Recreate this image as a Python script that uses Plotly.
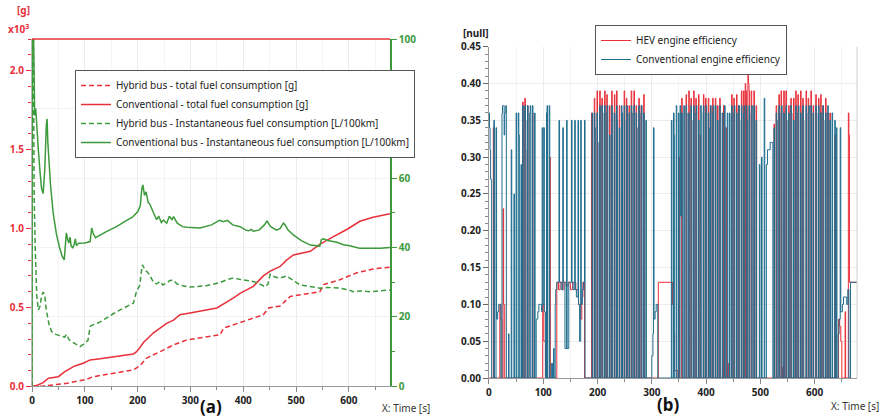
import plotly.graph_objects as go

# ---------------- (a) fuel consumption ----------------
# cumulative fuel mass [x10^3 g]
t_conv_total = [0, 10, 21, 31, 50, 62, 81, 97, 110, 129, 192, 198, 204, 211, 230, 242, 255,
                268, 280, 299, 350, 381, 394, 419, 438, 451, 470, 482, 495, 527, 545, 570,
                596, 621, 646, 678]
conv_total = [0, 0.008, 0.024, 0.052, 0.062, 0.094, 0.13, 0.147, 0.168, 0.175, 0.206, 0.22,
              0.245, 0.278, 0.34, 0.37, 0.40, 0.42, 0.454, 0.465, 0.497, 0.56, 0.59, 0.634,
              0.70, 0.73, 0.76, 0.80, 0.833, 0.856, 0.90, 0.947, 0.994, 1.046, 1.072, 1.093]

t_hyb_total = [0, 21, 66, 104, 116, 154, 192, 204, 217, 242, 268, 293, 356, 363, 394, 438,
               448, 470, 489, 545, 552, 583, 615, 646, 678]
hyb_total = [0, 0.003, 0.02, 0.046, 0.062, 0.084, 0.105, 0.13, 0.18, 0.22, 0.263, 0.295,
             0.327, 0.37, 0.405, 0.454, 0.497, 0.51, 0.57, 0.60, 0.645, 0.676, 0.72, 0.744,
             0.755]

# instantaneous consumption [L/100km]
t_conv_inst = [0, 0.5, 3, 5, 7, 9, 12, 15, 18, 21, 24, 27, 28.5, 30, 32, 35, 40, 46, 52, 57,
               61, 63, 65, 68, 70, 72, 74, 77, 80, 82, 84, 88, 100, 110, 113, 116, 120, 140,
               160, 176, 190, 200, 205, 208, 210, 213, 216, 220, 223, 230, 236, 240, 245,
               249, 255, 260, 265, 268, 275, 285, 293, 318, 340, 355, 362, 370, 380, 394,
               405, 410, 415, 419, 430, 440, 445, 452, 463, 470, 476, 479, 485, 495, 510,
               527, 545, 548, 552, 560, 577, 590, 602, 620, 640, 660, 678]
conv_inst = [0, 110, 100, 78, 80, 74, 68, 62, 57, 55.5, 62, 75, 77, 70, 64, 58, 50, 44, 40,
             37.5, 36.4, 40, 44.2, 42, 41.3, 43, 40.5, 39.8, 41, 42.5, 40.5, 41.2, 41.3, 41.7,
             45.6, 44, 42.8, 44.5, 46, 47.5, 48.7, 50.3, 52, 57, 58, 55, 56, 53, 52.5, 50, 48,
             49, 47.2, 47.9, 47, 49, 48, 48.9, 47, 46, 45.8, 45.6, 46.5, 47.8, 47.4, 47.8,
             46.5, 46, 45, 44.8, 45.2, 44.7, 45, 46.5, 47.6, 46, 45, 45.5, 47, 46.6, 45, 43.6,
             42, 40.7, 40.4, 42.3, 42.5, 42, 41.5, 40.8, 40.5, 39.8, 39.7, 39.8, 40]

t_hyb_inst = [0, 0.5, 2.5, 4, 6, 9, 12, 15, 18, 21, 24, 27, 32, 37, 45, 55, 62, 65, 70, 75,
              85, 91, 98, 103, 106, 110, 112, 120, 129, 160, 192, 197, 204, 207, 209, 211,
              214, 218, 223, 230, 236, 242, 248, 255, 261, 267, 275, 285, 299, 330, 356, 370,
              381, 395, 410, 419, 430, 441, 447, 451, 460, 470, 482, 495, 508, 525, 545, 560,
              583, 600, 608, 620, 640, 660, 678]
hyb_inst = [0, 110, 100, 55, 40, 26, 22, 23, 26, 27.2, 26.3, 22, 18, 15.8, 15, 14.5, 14.2,
            15, 13.5, 12.9, 12, 11.5, 12.2, 12.9, 13.3, 17.2, 17.5, 18, 18.6, 21.5, 24, 26.9,
            29.2, 33, 35, 34.5, 33.5, 33, 32, 30, 29.5, 30.2, 29.2, 29.8, 30.5, 30.6, 29.5,
            29, 28.6, 29, 29.9, 30.8, 31.2, 30.8, 30.4, 30.2, 29.6, 28.7, 29.5, 32.3, 31.5,
            31.2, 31.8, 30.5, 29.2, 28.8, 28.3, 28.5, 28.3, 27.8, 27.3, 27.5, 27.3, 27.5, 27.8]

# ---------------- (b) engine efficiency (step signal: value holds until next time) ----------------
hev_eff = [
    (0, 0), (8, 0.34), (9, 0), (20, 0.1), (22, 0.08), (24, 0), (26, 0.23), (27, 0.1), (29, 0),
    (62, 0.375), (63, 0), (66, 0.38), (67, 0.31), (68, 0), (71, 0.37), (72, 0), (80, 0.36),
    (81, 0), (99, 0.1), (101, 0.05), (104, 0), (106, 0.36), (107, 0), (112, 0.3), (113, 0),
    (125, 0.13), (128, 0.12), (131, 0.13), (135, 0.12), (138, 0.13), (142, 0.125), (146, 0.13),
    (150, 0.12), (154, 0.13), (160, 0.12), (165, 0.1), (168, 0.08), (171, 0.11), (173, 0.13),
    (176, 0), (189, 0.36), (190, 0), (194, 0.38), (195, 0), (199, 0.39), (200, 0), (204, 0.39),
    (205, 0), (208, 0.38), (209, 0), (213, 0.39), (214, 0), (217, 0.385), (218, 0), (222, 0.37),
    (223, 0), (226, 0.39), (227, 0), (231, 0.385), (232, 0), (235, 0.39), (236, 0), (240, 0.37),
    (241, 0), (245, 0.25), (246, 0), (249, 0.39), (250, 0), (253, 0.38), (254, 0), (258, 0.37),
    (259, 0), (262, 0.39), (263, 0), (267, 0.39), (268, 0), (271, 0.37), (272, 0), (276, 0.38),
    (277, 0), (280, 0.37), (281, 0), (285, 0.385), (286, 0), (312, 0.13), (337, 0.13),
    (338, 0.1), (340, 0.06), (342, 0.01), (348, 0), (350, 0.3), (351, 0), (355, 0.38), (356, 0),
    (363, 0.385), (364, 0), (368, 0.39), (369, 0), (372, 0.38), (373, 0), (377, 0.39), (378, 0),
    (381, 0.38), (382, 0), (386, 0.385), (387, 0), (389, 0.33), (390, 0), (395, 0.385),
    (396, 0), (399, 0.38), (400, 0), (404, 0.38), (405, 0), (408, 0.37), (409, 0), (412, 0.38),
    (413, 0), (417, 0.38), (418, 0), (421, 0.37), (422, 0), (425, 0.38), (426, 0), (432, 0.37),
    (433, 0.21), (434, 0), (437, 0.34), (438, 0), (440, 0.02), (441, 0), (447, 0.385), (448, 0),
    (451, 0.38), (452, 0), (456, 0.385), (457, 0), (460, 0.37), (461, 0), (465, 0.39), (466, 0),
    (469, 0.39), (470, 0), (472, 0.40), (473, 0), (474, 0.39), (475, 0), (477, 0.415),
    (478, 0.40), (479, 0.39), (480, 0), (483, 0.39), (484, 0), (488, 0.39), (489, 0),
    (492, 0.37), (493, 0), (525, 0.345), (526, 0), (529, 0.37), (530, 0), (534, 0.385),
    (535, 0), (538, 0.39), (539, 0), (541, 0.015), (542, 0), (543, 0.39), (544, 0), (547, 0.39),
    (548, 0), (552, 0.37), (553, 0), (556, 0.38), (557, 0), (561, 0.38), (562, 0), (565, 0.39),
    (566, 0), (569, 0.385), (570, 0), (574, 0.39), (575, 0), (578, 0.38), (579, 0), (584, 0.39),
    (585, 0), (588, 0.38), (589, 0), (593, 0.39), (594, 0), (597, 0.37), (598, 0), (602, 0.385),
    (603, 0), (607, 0.38), (608, 0), (611, 0.385), (612, 0), (615, 0.37), (616, 0), (620, 0.38),
    (621, 0), (624, 0.36), (625, 0), (628, 0.36), (629, 0), (637, 0.33), (638, 0), (644, 0.08),
    (646, 0.07), (648, 0.05), (650, 0), (656, 0.09), (657, 0), (662, 0.36), (663, 0.33),
    (664, 0.13), (678, 0.13), (679, 0),
]

conv_eff = [
    (0, 0.36), (1, 0.34), (2, 0.31), (3, 0.27), (5, 0), (9, 0.35), (10, 0), (13, 0.34),
    (14, 0.08), (16, 0.09), (18, 0.1), (21, 0.1), (22, 0), (24, 0.36), (25, 0.37), (27, 0.37),
    (28, 0.33), (29, 0.36), (31, 0.37), (32, 0), (36, 0.06), (37, 0), (41, 0.31), (42, 0),
    (46, 0.25), (47, 0), (50, 0.36), (51, 0), (54, 0.36), (55, 0.33), (56, 0), (59, 0.29),
    (60, 0), (62, 0.37), (63, 0), (66, 0.37), (67, 0.35), (68, 0), (71, 0.37), (72, 0),
    (75, 0.36), (76, 0.37), (77, 0), (80, 0.37), (81, 0), (84, 0.36), (85, 0), (87, 0.08),
    (90, 0.09), (92, 0.1), (95, 0.1), (97, 0.09), (98, 0.34), (99, 0.1), (101, 0.34),
    (102, 0.09), (104, 0), (106, 0.36), (107, 0.37), (108, 0), (111, 0.37), (112, 0),
    (115, 0.02), (117, 0), (119, 0.04), (120, 0), (122, 0.1), (123, 0.12), (125, 0.13),
    (129, 0.35), (130, 0.13), (133, 0.12), (136, 0.34), (137, 0.13), (140, 0.04), (143, 0.35),
    (144, 0.04), (147, 0.13), (152, 0.35), (153, 0.13), (155, 0.12), (158, 0.35), (159, 0.12),
    (161, 0.11), (164, 0.35), (165, 0.1), (167, 0.05), (169, 0.35), (170, 0.1), (172, 0.12),
    (174, 0.13), (176, 0.35), (177, 0),
    (190, 0.36), (191, 0), (194, 0.36), (195, 0.34), (196, 0), (199, 0.36), (200, 0.32),
    (201, 0), (204, 0.37), (205, 0), (208, 0.37), (209, 0.36), (210, 0), (213, 0.37), (214, 0),
    (217, 0.36), (218, 0.37), (219, 0), (222, 0.33), (223, 0), (226, 0.37), (227, 0.36),
    (228, 0), (231, 0.36), (232, 0), (235, 0.37), (236, 0.35), (237, 0), (240, 0.34), (241, 0),
    (244, 0.37), (245, 0.36), (246, 0), (249, 0.37), (250, 0), (253, 0.35), (254, 0.37),
    (255, 0), (258, 0.36), (259, 0), (262, 0.37), (263, 0.36), (264, 0), (267, 0.37), (268, 0),
    (271, 0.36), (272, 0.34), (273, 0), (276, 0.37), (277, 0), (280, 0.36), (281, 0.37),
    (282, 0), (285, 0.36), (286, 0), (289, 0.35), (290, 0),
    (300, 0.03), (302, 0.06), (303, 0.34), (304, 0.08), (306, 0.09), (308, 0.1), (311, 0),
    (336, 0.35), (337, 0), (340, 0.36), (341, 0.33), (342, 0), (345, 0.37), (346, 0),
    (349, 0.36), (350, 0), (352, 0.37), (353, 0.22), (355, 0.36), (356, 0), (359, 0.37),
    (360, 0), (363, 0.37), (364, 0.36), (365, 0), (368, 0.36), (369, 0), (372, 0.37),
    (373, 0.35), (374, 0), (377, 0.37), (378, 0), (381, 0.36), (382, 0.37), (383, 0),
    (386, 0.35), (387, 0), (390, 0.37), (391, 0.36), (392, 0), (395, 0.37), (396, 0),
    (399, 0.36), (400, 0.37), (401, 0), (404, 0.36), (405, 0.34), (406, 0), (408, 0.37),
    (409, 0), (412, 0.36), (413, 0.37), (414, 0), (417, 0.37), (418, 0), (421, 0.35), (422, 0),
    (425, 0.37), (426, 0.36), (427, 0), (430, 0.36), (431, 0), (434, 0.37), (435, 0.34),
    (436, 0), (439, 0.36), (440, 0), (443, 0.36), (444, 0),
    (447, 0.37), (448, 0), (451, 0.36), (452, 0.37), (453, 0), (456, 0.36), (457, 0),
    (460, 0.37), (461, 0.35), (462, 0), (465, 0.37), (466, 0), (469, 0.36), (470, 0.37),
    (471, 0), (474, 0.37), (475, 0.35), (476, 0), (479, 0.37), (480, 0), (483, 0.36),
    (484, 0.37), (485, 0), (488, 0.37), (489, 0), (492, 0.35), (493, 0),
    (498, 0.29), (499, 0), (502, 0.3), (503, 0), (507, 0.38), (508, 0), (511, 0.29),
    (513, 0.31), (516, 0.31), (518, 0.32), (522, 0.32), (523, 0),
    (525, 0.34), (526, 0), (529, 0.36), (530, 0.35), (531, 0), (534, 0.37), (535, 0),
    (538, 0.36), (539, 0.37), (540, 0), (543, 0.36), (544, 0), (547, 0.37), (548, 0.35),
    (549, 0), (552, 0.36), (553, 0), (556, 0.37), (557, 0.36), (558, 0), (561, 0.35), (562, 0),
    (565, 0.37), (566, 0), (569, 0.36), (570, 0.37), (571, 0), (574, 0.36), (575, 0),
    (578, 0.37), (579, 0.35), (580, 0),
    (584, 0.37), (585, 0), (588, 0.36), (589, 0.37), (590, 0), (593, 0.37), (594, 0),
    (597, 0.36), (598, 0), (602, 0.37), (603, 0.36), (604, 0), (607, 0.37), (608, 0),
    (611, 0.36), (612, 0), (615, 0.37), (616, 0.35), (617, 0), (620, 0.36), (621, 0),
    (624, 0.37), (625, 0), (628, 0.35), (629, 0), (632, 0.36), (633, 0),
    (637, 0.35), (638, 0), (640, 0.34), (641, 0), (643, 0.06), (645, 0.08), (647, 0.34),
    (648, 0.09), (651, 0.1), (653, 0.11), (657, 0.11), (659, 0.1), (661, 0.12), (663, 0),
    (666, 0.13), (678, 0.13), (679, 0),
]

RED = "#e8303a"
GREEN = "#3c9a3c"
TEAL = "#1f6d8e"
FONT = "Noto Sans"

fig = go.Figure()

# (a) panel traces
fig.add_trace(go.Scatter(x=t_hyb_total, y=hyb_total, mode="lines", xaxis="x", yaxis="y",
                         name="Hybrid bus - total fuel consumption [g]",
                         line=dict(color=RED, width=1.5, dash="5px,3px"), legend="legend"))
fig.add_trace(go.Scatter(x=t_conv_total, y=conv_total, mode="lines", xaxis="x", yaxis="y",
                         name="Conventional - total fuel consumption [g]",
                         line=dict(color=RED, width=1.5), legend="legend"))
fig.add_trace(go.Scatter(x=t_hyb_inst, y=hyb_inst, mode="lines", xaxis="x", yaxis="y2",
                         name="Hybrid bus - Instantaneous fuel consumption [L/100km]",
                         line=dict(color=GREEN, width=1.5, dash="5px,3px"), legend="legend"))
fig.add_trace(go.Scatter(x=t_conv_inst, y=conv_inst, mode="lines", xaxis="x", yaxis="y2",
                         name="Conventional bus - Instantaneous fuel consumption [L/100km]",
                         line=dict(color=GREEN, width=1.5), legend="legend"))

# (b) panel traces
fig.add_trace(go.Scatter(x=[p[0] for p in hev_eff], y=[p[1] for p in hev_eff], mode="lines",
                         xaxis="x2", yaxis="y3", name="HEV engine efficiency",
                         line=dict(color=RED, width=1, shape="hv"), legend="legend2"))
fig.add_trace(go.Scatter(x=[p[0] for p in conv_eff], y=[p[1] for p in conv_eff], mode="lines",
                         xaxis="x2", yaxis="y3", name="Conventional engine efficiency",
                         line=dict(color=TEAL, width=1, shape="hv"), legend="legend2"))

tick_font = dict(family=FONT, size=10, color="#222", weight="bold")
grid_c = "#ececec"

xa = dict(range=[0, 678], tickvals=[0, 100, 200, 300, 400, 500, 600], ticks="outside",
          ticklen=5, tickcolor="#888", tickfont=tick_font, showline=True, linecolor="#999",
          linewidth=1, showgrid=True, gridcolor=grid_c, zeroline=False, automargin=False,
          minor=dict(dtick=50, tick0=0, ticks="outside", ticklen=3, tickcolor="#888",
                     showgrid=True, gridcolor="#f4f4f4"))

fig.update_layout(
    width=885, height=420, autosize=False,
    margin=dict(l=0, r=0, t=0, b=0, pad=0, autoexpand=False),
    paper_bgcolor="white", plot_bgcolor="white",
    font=dict(family=FONT, size=10, color="#222"),
    xaxis=dict(domain=[0.0362, 0.4407], anchor="y", **xa),
    yaxis=dict(domain=[0.0798, 0.9071], anchor="x", range=[0, 2.2], automargin=False,
               tickvals=[0, 0.5, 1.0, 1.5, 2.0], ticktext=["0.0", "0.5", "1.0", "1.5", "2.0"],
               ticks="outside", ticklen=5, tickcolor=RED,
               tickfont=dict(family=FONT, size=10, color=RED, weight="bold"),
               showline=True, linecolor="#bbb", showgrid=False, zeroline=False,
               minor=dict(dtick=0.1, ticks="outside", ticklen=3, tickcolor=RED)),
    yaxis2=dict(overlaying="y", side="right", anchor="x", range=[0, 100], automargin=False,
                tickvals=[0, 20, 40, 60, 80, 100], ticks="outside", ticklen=5, tickcolor=GREEN,
                tickfont=dict(family=FONT, size=10, color=GREEN, weight="bold"),
                showline=True, linecolor=GREEN, linewidth=1.5, showgrid=True,
                gridcolor="#f2f2f2", zeroline=False,
                minor=dict(dtick=10, ticks="outside", ticklen=3, tickcolor=GREEN)),
    xaxis2=dict(domain=[0.5525, 0.9684], anchor="y3", **xa),
    yaxis3=dict(domain=[0.1, 0.8888], anchor="x2", range=[0, 0.45], dtick=0.05,
                tickformat=".2f", ticks="outside", ticklen=5, tickcolor="#666", automargin=False,
                tickfont=tick_font, showline=True, linecolor="#999", showgrid=True,
                gridcolor=grid_c, zeroline=False,
                minor=dict(dtick=0.01, ticks="outside", ticklen=3, tickcolor="#888")),
    legend=dict(x=0.0847, y=0.8333, xanchor="left", yanchor="top", bgcolor="white",
                bordercolor="#555", borderwidth=1, font=dict(family=FONT, size=10, color="#222"),
                tracegroupgap=0),
    legend2=dict(x=0.6723, y=0.9405, xanchor="left", yanchor="top", bgcolor="white",
                 bordercolor="#555", borderwidth=1, font=dict(family=FONT, size=10, color="#222")),
    showlegend=True,
)

# frame lines: red top border of (a), light right border of (b), legend group divider
fig.add_shape(type="line", xref="paper", yref="paper", x0=0.0362, x1=0.4407, y0=0.9071,
              y1=0.9071, line=dict(color=RED, width=1.5))
fig.add_shape(type="line", xref="paper", yref="paper", x0=0.9684, x1=0.9684, y0=0.1,
              y1=0.8888, line=dict(color="#cfcfcf", width=1))
fig.add_shape(type="line", xref="paper", yref="paper", x0=77 / 885, x1=412 / 885,
              y0=1 - 113 / 420, y1=1 - 113 / 420, line=dict(color="#cccccc", width=1))

ann = [
    dict(text="[g]", x=23 / 885, y=1 - 10 / 420, font=dict(color=RED, size=10, weight="bold")),
    dict(text="x10<sup>3</sup>", x=18 / 885, y=1 - 29 / 420,
         font=dict(color=RED, size=10, weight="bold")),
    dict(text="[null]", x=476 / 885, y=1 - 33 / 420, font=dict(color="#222", size=10, weight="bold")),
    dict(text="(a)", x=211 / 885, y=1 - 406 / 420, font=dict(color="#111", size=17, weight="bold")),
    dict(text="(b)", x=668 / 885, y=1 - 404 / 420, font=dict(color="#111", size=17, weight="bold")),
    dict(text="X: Time [s]", x=406 / 885, y=1 - 408 / 420, font=dict(color="#333", size=10)),
    dict(text="X: Time [s]", x=855 / 885, y=1 - 406 / 420, font=dict(color="#333", size=10)),
]
for a in ann:
    a["font"].setdefault("family", FONT)
    fig.add_annotation(xref="paper", yref="paper", showarrow=False, xanchor="center",
                       yanchor="middle", **a)

fig.write_html("out.html")
